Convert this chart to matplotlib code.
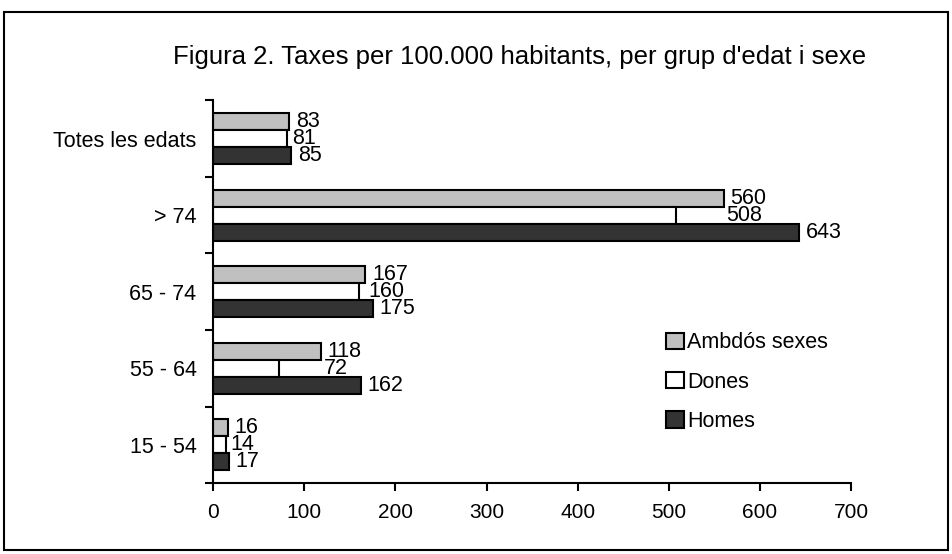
import numpy as np
import matplotlib.pyplot as plt
from matplotlib.patches import Patch, Rectangle

plt.rcParams['font.family'] = ['Liberation Sans', 'DejaVu Sans']

# Data (bottom to top)
groups = ['15 - 54', '55 - 64', '65 - 74', '> 74', 'Totes les edats']
ambdos = [16, 118, 167, 560, 83]
dones = [14, 72, 160, 508, 81]
homes = [17, 162, 175, 643, 85]
series_names = ['Ambdós sexes', 'Dones', 'Homes']
colors = ['#c0c0c0', '#ffffff', '#333333']

fig = plt.figure(figsize=(9.52, 5.54), dpi=100)
ax = fig.add_axes([0.224, 0.128, 0.670, 0.691])

y = np.arange(len(groups))
h = 0.222
offsets = [h, 0, -h]
for vals, off, c in zip([ambdos, dones, homes], offsets, colors):
    ax.barh(y + off, vals, height=h, color=c, edgecolor='black', linewidth=1.5)

# value labels (Dones labels sit after the Ambdós bar, as in the original)
fs = 15.5
for i in range(len(groups)):
    ax.annotate(str(ambdos[i]), (ambdos[i], y[i] + h), xytext=(5, 0),
                textcoords='offset points', va='center', ha='left', fontsize=fs)
    ax.annotate(str(dones[i]), (max(dones[i], ambdos[i]), y[i]), xytext=(2, 0),
                textcoords='offset points', va='center', ha='left', fontsize=fs)
    ax.annotate(str(homes[i]), (homes[i], y[i] - h), xytext=(5, 0),
                textcoords='offset points', va='center', ha='left', fontsize=fs)

ax.set_xlim(0, 700)
ax.set_ylim(-0.5, len(groups) - 0.5)
ax.set_xticks(np.arange(0, 701, 100))
ax.tick_params(axis='x', labelsize=15, length=6, width=1.5, pad=8)

ax.set_yticks(np.arange(-0.5, len(groups), 1.0))
ax.set_yticklabels([])
ax.set_yticks(y, minor=True)
ax.set_yticklabels(groups, minor=True, fontsize=fs)
ax.tick_params(axis='y', which='major', length=6, width=1.5)
ax.tick_params(axis='y', which='minor', length=0, pad=12)

for s in ['top', 'right']:
    ax.spines[s].set_visible(False)
for s in ['left', 'bottom']:
    ax.spines[s].set_linewidth(1.5)

handles = [Patch(facecolor=c, edgecolor='black', linewidth=1.5) for c in colors]
ax.legend(handles, series_names, loc='center left', bbox_to_anchor=(0.68, 0.264),
          frameon=False, fontsize=fs, handlelength=0.8, handleheight=0.8,
          handletextpad=0.15, labelspacing=0.85)

fig.text(0.546, 0.897, "Figura 2. Taxes per 100.000 habitants, per grup d'edat i sexe",
         ha='center', va='center', fontsize=18.5)

fig.patches.append(Rectangle((0.004, 0.007), 0.992, 0.972, transform=fig.transFigure,
                             fill=False, edgecolor='black', linewidth=1.5))

fig.savefig('out.png', dpi=100)
